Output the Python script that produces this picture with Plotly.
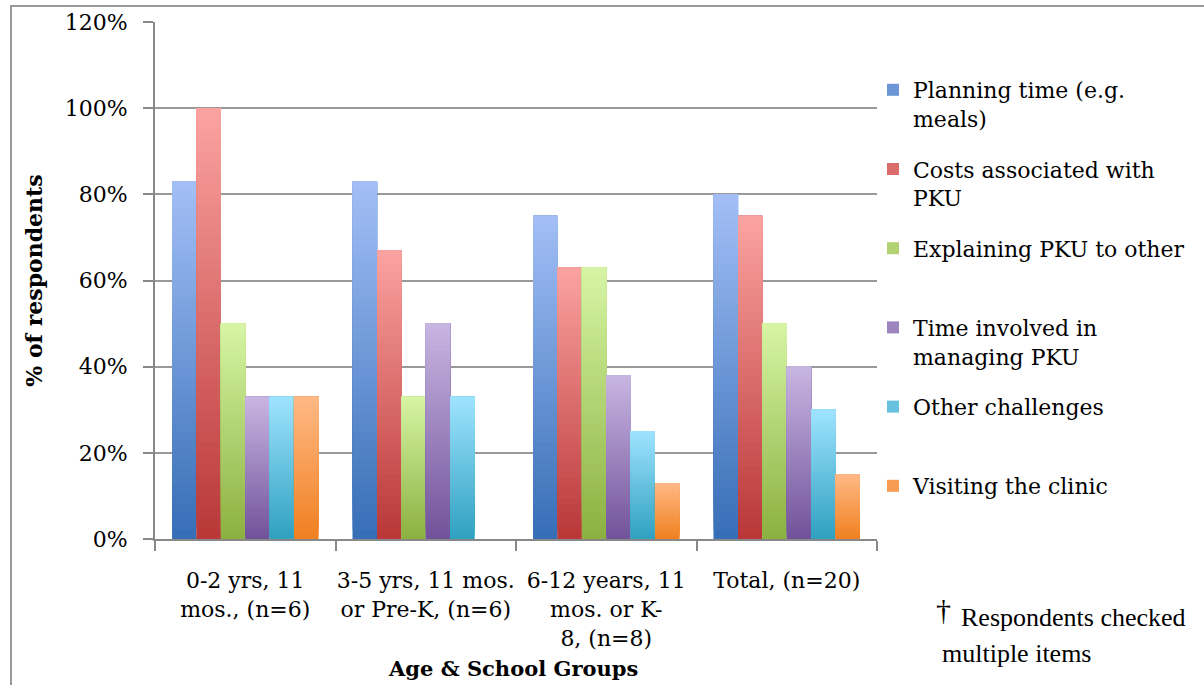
import plotly.graph_objects as go

# ---------------- data ----------------
categories = [
    "0-2 yrs, 11<br>mos., (n=6)",
    "3-5 yrs, 11 mos.<br>or Pre-K, (n=6)",
    "6-12 years, 11<br>mos. or K-<br>8, (n=8)",
    "Total, (n=20)",
]
series_names = [
    "Planning time (e.g.<br>meals)",
    "Costs associated with<br>PKU",
    "Explaining PKU to other<br> ",
    "Time involved in<br>managing PKU",
    "Other challenges<br> ",
    "Visiting the clinic",
]
planning_time = [0.83, 0.83, 0.75, 0.80]
costs_pku = [1.00, 0.67, 0.63, 0.75]
explaining_pku = [0.50, 0.33, 0.63, 0.50]
time_managing = [0.33, 0.50, 0.38, 0.40]
other_challenges = [0.33, 0.33, 0.25, 0.30]
visiting_clinic = [0.33, 0.00, 0.13, 0.15]
y_tick_values = [0, 0.2, 0.4, 0.6, 0.8, 1.0, 1.2]

series_values = [planning_time, costs_pku, explaining_pku,
                 time_managing, other_challenges, visiting_clinic]

# gradient colours (top, bottom)
grad = [
    ((163, 191, 246), (54, 110, 182)),
    ((251, 163, 160), (185, 55, 55)),
    ((215, 245, 165), (140, 176, 64)),
    ((200, 182, 226), (113, 82, 154)),
    ((159, 228, 255), (47, 160, 192)),
    ((255, 185, 134), (240, 128, 32)),
]

def mix(c1, c2, t):
    return "rgb(%d,%d,%d)" % tuple(round(a + (b - a) * t) for a, b in zip(c1, c2))

FONT = "DejaVu Serif"
K = 40

fig = go.Figure()
for name, vals, (top, bot) in zip(series_names, series_values, grad):
    # base solid bar (carries legend + hover)
    fig.add_trace(go.Bar(
        x=categories, y=vals, name=name, offsetgroup=name, legendgroup=name,
        marker=dict(color=mix(top, bot, 0.5), line=dict(width=0)),
        showlegend=True,
        hovertemplate="%{y:.0%}<extra></extra>",
    ))
    # overlapping gradient layers: each starts higher and reaches the top
    for k in range(K):
        t = k / K
        fig.add_trace(go.Bar(
            x=categories,
            y=[v * (1 - t) for v in vals],
            base=[v * t for v in vals],
            offsetgroup=name, legendgroup=name, showlegend=False,
            marker=dict(color=mix(bot, top, (k + 0.5) / K), line=dict(width=0)),
            hoverinfo="skip",
        ))

L, R, T, B = 155, 327, 22, 146
W, H = 1204, 685
pw, ph = W - L - R, H - T - B

def px(x):
    return (x - L) / pw

def py(y):
    return (H - B - y) / ph

fig.update_layout(
    width=W, height=H,
    margin=dict(l=L, r=R, t=T, b=B, autoexpand=False),
    paper_bgcolor="white", plot_bgcolor="white",
    barmode="group", bargap=0.19, bargroupgap=0,
    font=dict(family=FONT, size=22, color="black"),
    showlegend=True,
    legend=dict(
        x=px(873), y=py(69), xanchor="left", yanchor="top",
        font=dict(family=FONT, size=22, color="black"),
        valign="top", tracegroupgap=19, itemwidth=30,
        bgcolor="rgba(0,0,0,0)",
    ),
    xaxis=dict(
        type="category", tickson="boundaries", automargin=False,
        ticks="outside", ticklen=10, tickcolor="#888888", tickwidth=2,
        showline=True, linecolor="#888888", linewidth=2, tickangle=0,
        showgrid=False, tickfont=dict(family=FONT, size=22),
        ticklabelstandoff=21,
    ),
    yaxis=dict(
        range=[0, 1.2], tickvals=y_tick_values, tickformat=".0%",
        automargin=False,
        ticks="outside", ticklen=10, tickcolor="#888888", tickwidth=2,
        showline=True, linecolor="#888888", linewidth=2,
        showgrid=True, gridcolor="#999999", gridwidth=2,
        zeroline=False, ticklabelstandoff=11,
        tickfont=dict(family=FONT, size=22),
        title=dict(text="<b>% of respondents</b>", standoff=16,
                   font=dict(family=FONT, size=22)),
    ),
    annotations=[
        dict(text="<b>Age & School Groups</b>", xref="paper", yref="paper",
             x=px(513), y=py(668), xanchor="center", yanchor="middle",
             showarrow=False, font=dict(family=FONT, size=21)),
        dict(text="†", xref="paper", yref="paper",
             x=px(934), y=py(609), xanchor="left", yanchor="middle",
             showarrow=False, font=dict(family="Liberation Serif", size=30)),
        dict(text="Respondents checked", xref="paper", yref="paper",
             x=px(959), y=py(617), xanchor="left", yanchor="middle",
             showarrow=False, font=dict(family="Liberation Serif", size=26)),
        dict(text="multiple items", xref="paper", yref="paper",
             x=px(940), y=py(653), xanchor="left", yanchor="middle",
             showarrow=False, font=dict(family="Liberation Serif", size=26)),
    ],
    shapes=[
        dict(type="rect", xref="paper", yref="paper",
             x0=px(11), x1=px(1215), y0=py(700), y1=py(6),
             line=dict(color="#999999", width=2), layer="below"),
    ],
)

fig.write_html(
    "out.html",
    config={"displayModeBar": False},
    post_script="document.body.style.margin='0px';document.body.style.overflow='hidden';",
)
